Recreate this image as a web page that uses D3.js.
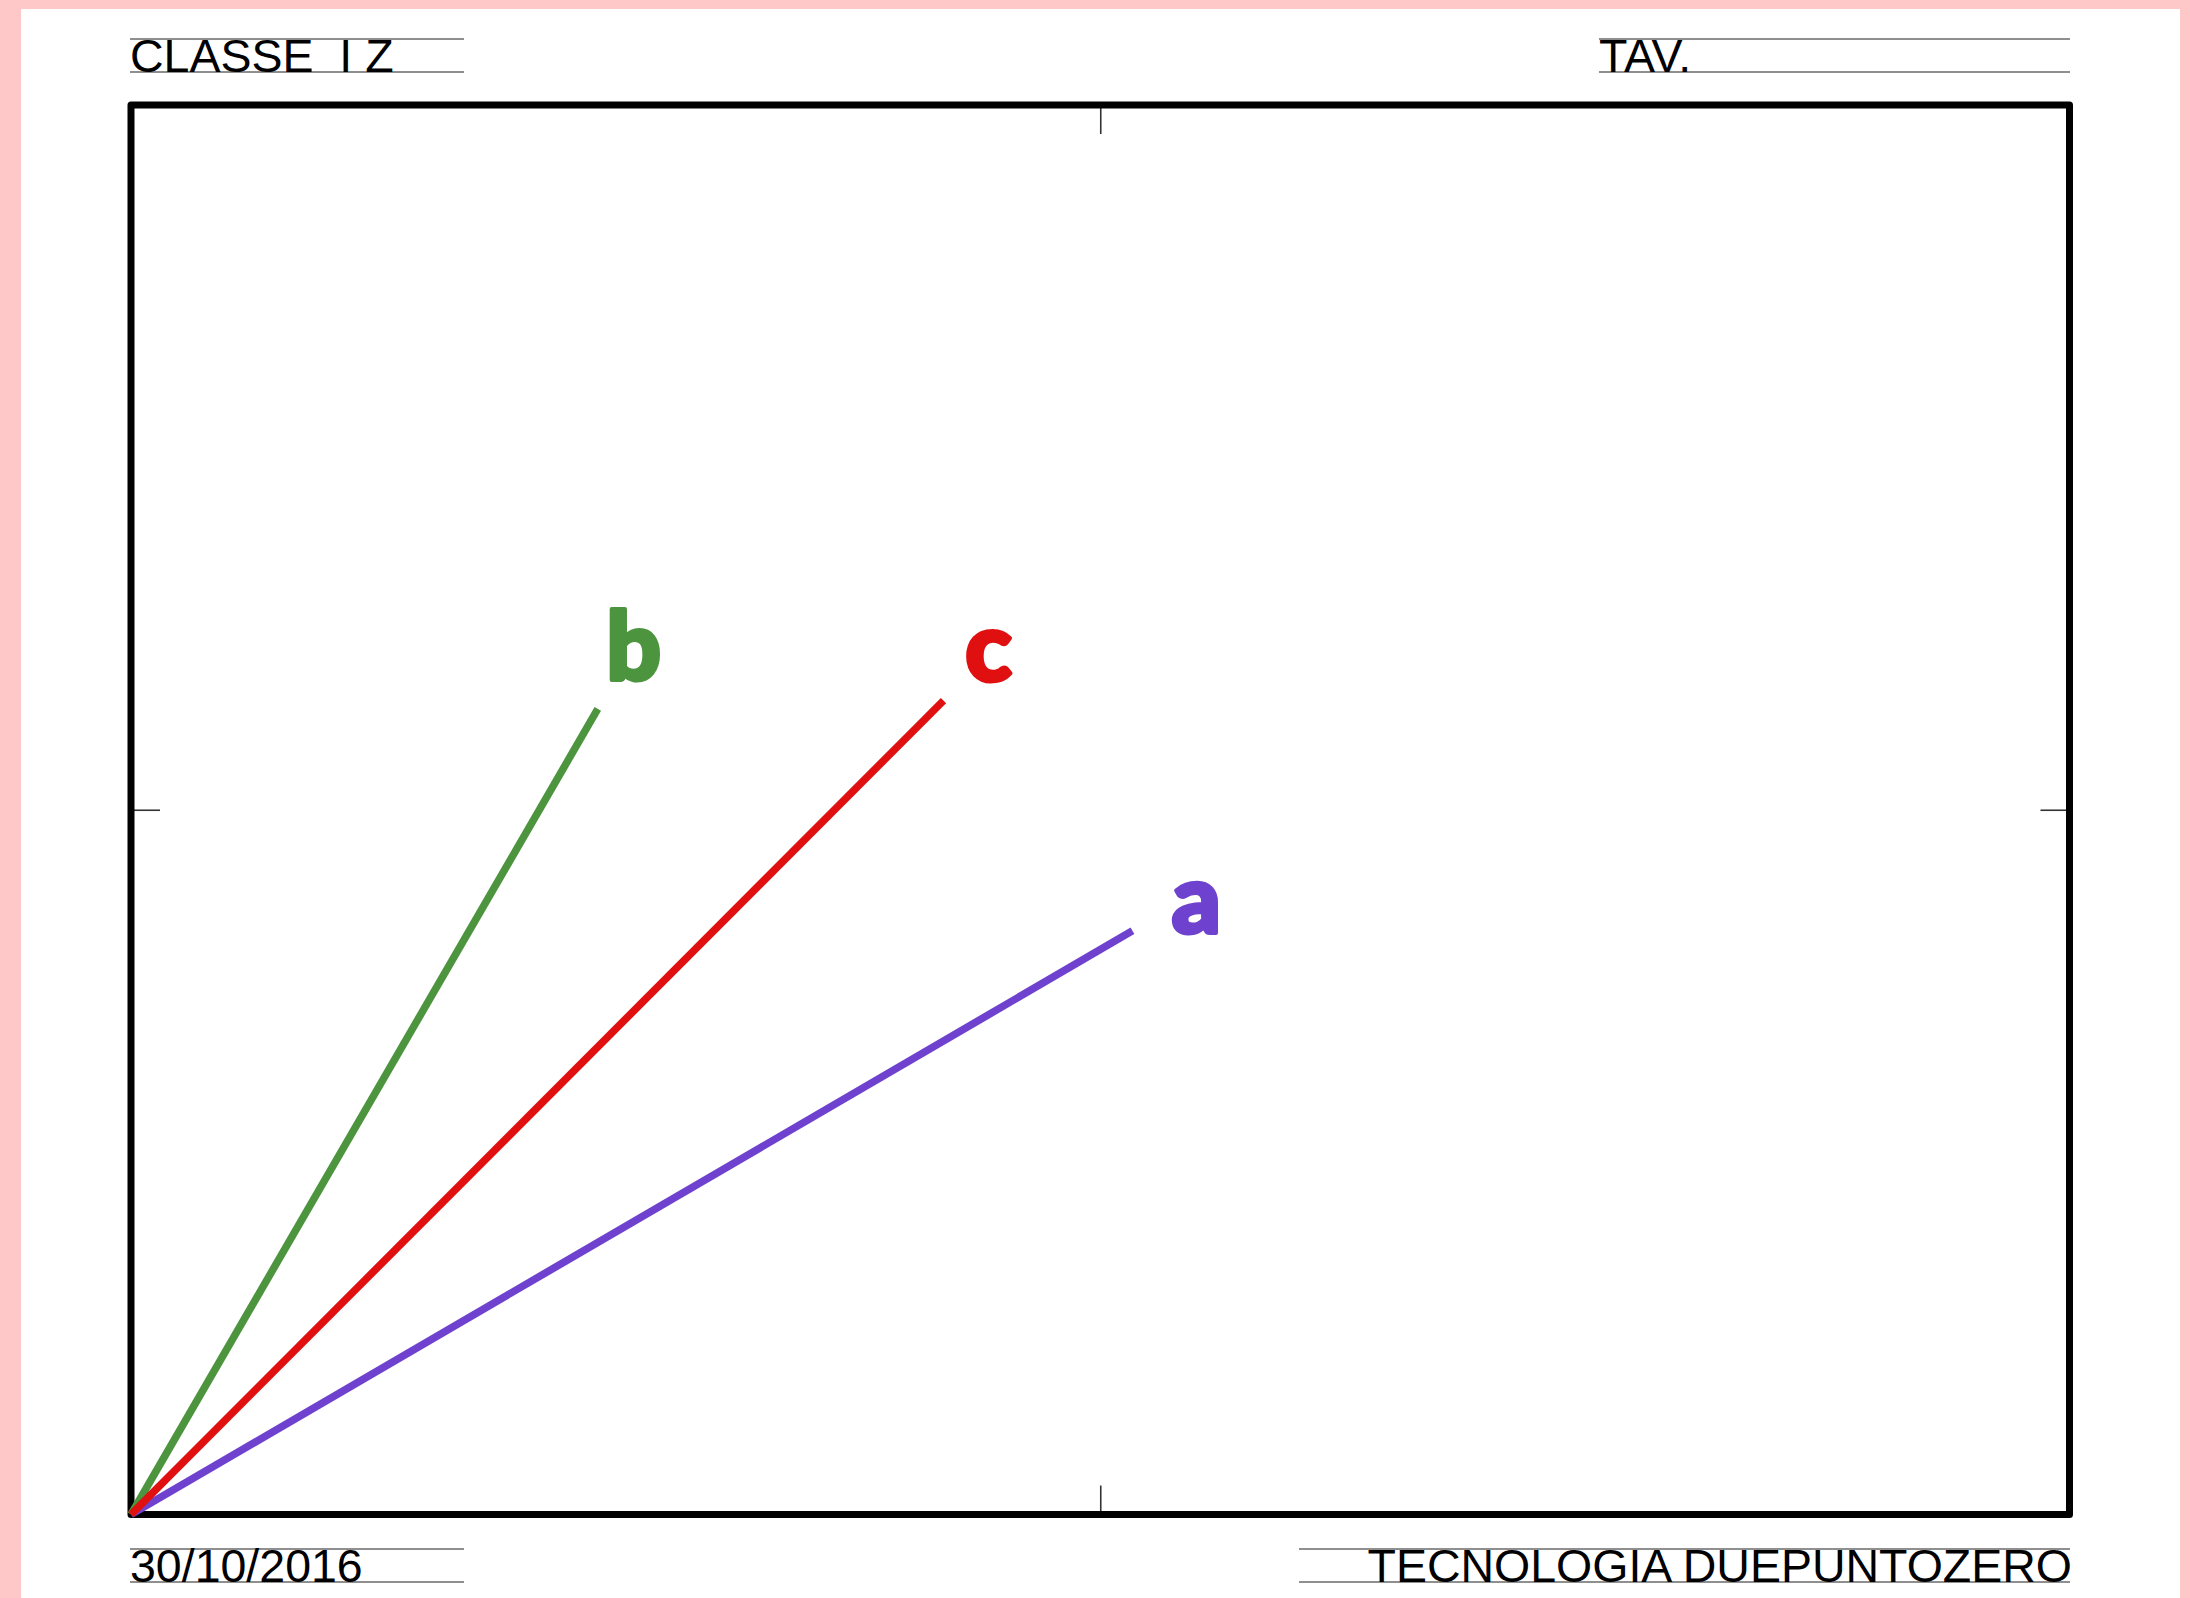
<!DOCTYPE html>
<html>
<head>
<meta charset="utf-8">
<script src="https://cdn.jsdelivr.net/npm/d3@7"></script>
<style>
  html, body { margin: 0; padding: 0; background: #FFC8C8; }
  svg { display: block; }
  text { white-space: pre; }
</style>
</head>
<body>
<svg id="chart" width="2190" height="1598"></svg>
<script>
// ---- data (units: mm inside the drawing frame) ----
const frameSize = [277, 201.4];          // width, height of the frame
const vectorNames = ["a", "b", "c"];
const vectorEndX = [143.1, 66.7, 116.1];  // end point x of each segment
const vectorEndY = [83.4, 115.1, 116.3];  // end point y of each segment
const originX = [0, 0, 0];
const originY = [0, 0, 0];
const midTicksX = [138.5];
const midTicksY = [100.7];
const headerTexts = ["CLASSE  I Z", "TAV."];
const footerTexts = ["30/10/2016", "TECNOLOGIA DUEPUNTOZERO"];

// ---- styles ----
const colors = { a: "#6E42CF", b: "#4C943E", c: "#E01010" };
const labelOffset = { a: [64, 2], b: [36, -29], c: [45, -20] };

const svg = d3.select("#chart");
svg.append("rect").attr("x", 21).attr("y", 9).attr("width", 2159).attr("height", 1600).attr("fill", "#fff");

const x = d3.scaleLinear().domain([0, frameSize[0]]).range([131, 2069.5]);
const y = d3.scaleLinear().domain([0, frameSize[1]]).range([1514.5, 105]);

// header / footer ruled fields
const fields = [
  { x0: 130, x1: 464, top: 39, bot: 72, text: headerTexts[0], anchor: "start", tx: 130 },
  { x0: 1599, x1: 2070, top: 39, bot: 72, text: headerTexts[1], anchor: "start", tx: 1599 },
  { x0: 130, x1: 464, top: 1549, bot: 1582, text: footerTexts[0], anchor: "start", tx: 130 },
  { x0: 1299, x1: 2070, top: 1549, bot: 1582, text: footerTexts[1], anchor: "end", tx: 2072 }
];
const fg = svg.append("g");
fields.forEach(f => {
  [f.top, f.bot].forEach(yy => {
    fg.append("line").attr("x1", f.x0).attr("x2", f.x1).attr("y1", yy).attr("y2", yy)
      .attr("stroke", "#6a6a6a").attr("stroke-width", 1.5);
  });
  fg.append("text").attr("x", f.tx).attr("y", f.bot)
    .attr("text-anchor", f.anchor)
    .attr("font-family", "Liberation Sans, Arial, sans-serif")
    .attr("font-size", 46.5).attr("fill", "#000")
    .text(f.text);
});

// mid-point inward ticks using axes
function styleAxis(g) {
  g.select(".domain").remove();
  g.selectAll(".tick line").attr("stroke", "#333").attr("stroke-width", 1.6);
  g.selectAll(".tick text").remove();
}
svg.append("g").attr("transform", `translate(0,${y(0)})`)
  .call(d3.axisBottom(x).tickValues(midTicksX).tickSize(-29).tickFormat("")).call(styleAxis);
svg.append("g").attr("transform", `translate(0,${y(frameSize[1])})`)
  .call(d3.axisTop(x).tickValues(midTicksX).tickSize(-29).tickFormat("")).call(styleAxis);
svg.append("g").attr("transform", `translate(${x(0)},0)`)
  .call(d3.axisLeft(y).tickValues(midTicksY).tickSize(-29).tickFormat("")).call(styleAxis);
svg.append("g").attr("transform", `translate(${x(frameSize[0])},0)`)
  .call(d3.axisRight(y).tickValues(midTicksY).tickSize(-29).tickFormat("")).call(styleAxis);

// frame
svg.append("rect")
  .attr("x", x(0)).attr("y", y(frameSize[1]))
  .attr("width", x(frameSize[0]) - x(0)).attr("height", y(0) - y(frameSize[1]))
  .attr("fill", "none").attr("stroke", "#000").attr("stroke-width", 7)
  .attr("stroke-linejoin", "round");

// segments
const segs = vectorNames.map((n, i) => ({ name: n, x0: originX[i], y0: originY[i], x1: vectorEndX[i], y1: vectorEndY[i] }));
svg.append("g").selectAll("line").data(segs).join("line")
  .attr("x1", d => x(d.x0)).attr("y1", d => y(d.y0))
  .attr("x2", d => x(d.x1)).attr("y2", d => y(d.y1))
  .attr("stroke", d => colors[d.name]).attr("stroke-width", 7.5)
  .attr("stroke-linecap", "butt");

svg.append("g").selectAll("text").data(segs).join("text")
  .attr("x", d => x(d.x1) + labelOffset[d.name][0])
  .attr("y", d => y(d.y1) + labelOffset[d.name][1])
  .attr("text-anchor", "middle")
  .attr("font-family", "Lato, Inter, sans-serif")
  .attr("font-weight", 900)
  .attr("font-size", 96)
  .attr("fill", d => colors[d.name])
  .attr("stroke", d => colors[d.name])
  .attr("stroke-width", 4)
  .attr("stroke-linejoin", "round")
  .text(d => d.name);
</script>
</body>
</html>
